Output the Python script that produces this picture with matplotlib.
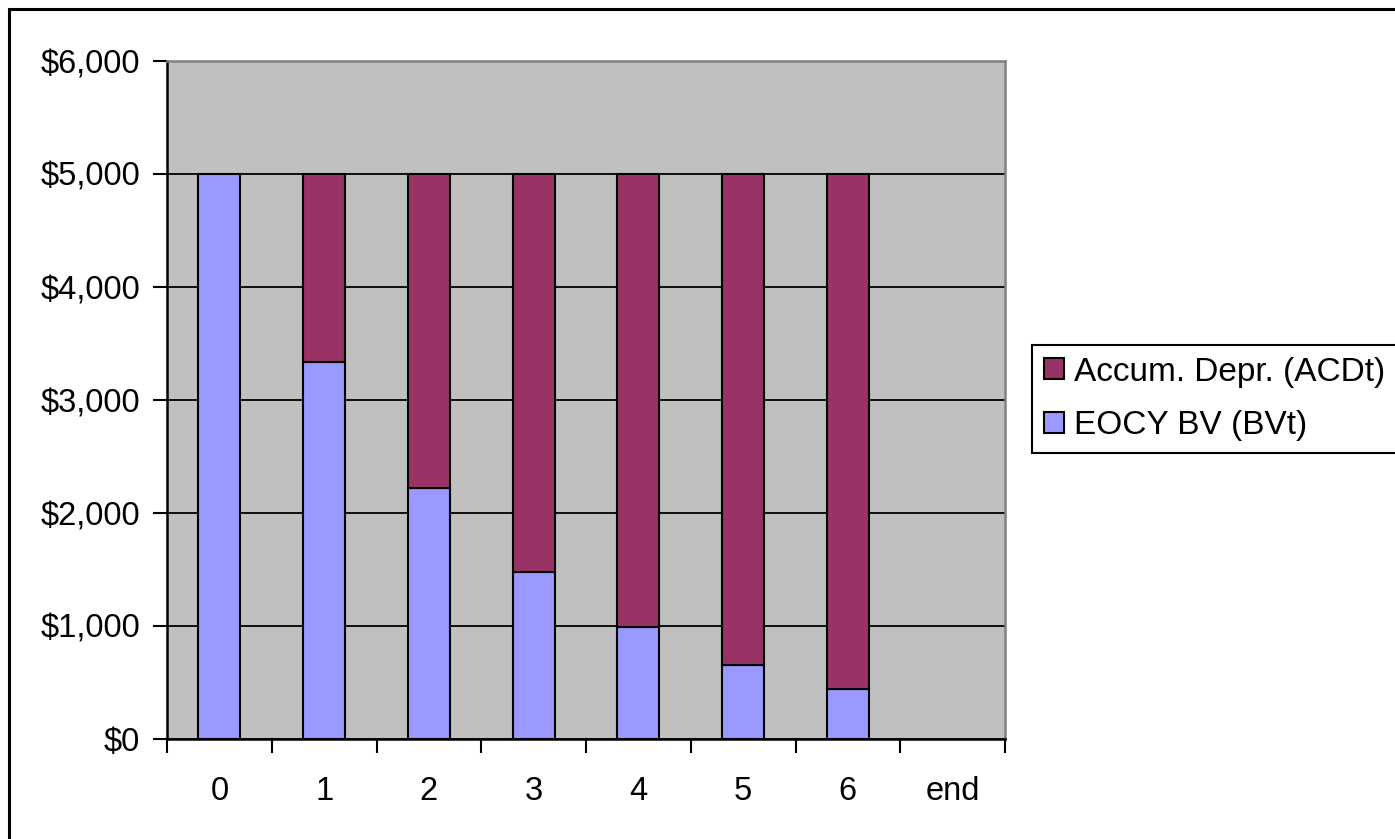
import matplotlib
matplotlib.use("Agg")
import matplotlib.pyplot as plt
from matplotlib.patches import Rectangle
from matplotlib.ticker import FuncFormatter, FixedLocator
import numpy as np

plt.rcParams['font.family'] = ['Liberation Sans', 'DejaVu Sans']

categories = ["0", "1", "2", "3", "4", "5", "6", "end"]
book_value = [5000, 3333, 2222, 1481, 988, 658, 439, 0]
accum_depr = [0, 1667, 2778, 3519, 4012, 4342, 4561, 0]
y_ticks = [0, 1000, 2000, 3000, 4000, 5000, 6000]

W, H = 1395, 839
fig = plt.figure(figsize=(W / 100, H / 100), dpi=100)
fig.patch.set_facecolor("white")

# outer chart frame
fig.add_artist(Rectangle((8.5 / W, -0.05), 1.1, 1 - 8.5 / H + 0.05,
                         transform=fig.transFigure, fill=False,
                         edgecolor="black", linewidth=2.2, zorder=0))

ax = fig.add_axes([167 / W, 1 - 739 / H, (1005 - 167) / W, (739 - 61) / H])
ax.set_facecolor("#C0C0C0")

x = np.arange(len(categories))
bw = 0.4
bv_lw = [1.5 if v > 0 else 0 for v in book_value]
ad_lw = [1.5 if v > 0 else 0 for v in accum_depr]
b1 = ax.bar(x, book_value, width=bw, color="#9999FF", edgecolor="black",
            linewidth=bv_lw, label="EOCY BV (BVt)", zorder=3)
b2 = ax.bar(x, accum_depr, width=bw, bottom=book_value, color="#993366",
            edgecolor="black", linewidth=ad_lw, label="Accum. Depr. (ACDt)", zorder=3)

ax.set_xlim(-0.5, len(categories) - 0.5)
ax.set_ylim(0, 6000)

ax.yaxis.set_major_locator(FixedLocator(y_ticks))
ax.yaxis.set_major_formatter(FuncFormatter(lambda v, p: f"${v:,.0f}"))
ax.grid(axis="y", color="black", linewidth=1.3, zorder=1)
ax.set_axisbelow(True)

ax.set_xticks(np.arange(len(categories) + 1) - 0.5)
ax.set_xticklabels([])
ax.set_xticks(x, minor=True)
ax.set_xticklabels(categories, minor=True)
ax.tick_params(axis="x", which="major", direction="out", length=10, width=1.5,
               color="black")
ax.tick_params(axis="x", which="minor", length=0, pad=27, labelsize=23.5)
ax.tick_params(axis="y", direction="out", length=10, width=1.5, pad=9.5,
               labelsize=23.5, color="black")

for side in ("left", "bottom"):
    ax.spines[side].set_color("black")
    ax.spines[side].set_linewidth(1.8)
for side in ("top", "right"):
    ax.spines[side].set_color("#808080")
    ax.spines[side].set_linewidth(1.8)

leg = ax.legend(handles=[b2, b1], loc="upper left",
                bbox_to_anchor=(1032 / W, 1 - 345 / H), bbox_transform=fig.transFigure,
                fontsize=24, frameon=True, fancybox=False, framealpha=1,
                edgecolor="black", handlelength=0.6, handleheight=0.6,
                handletextpad=0.3, borderpad=0.35, labelspacing=0.68,
                borderaxespad=0)
leg.get_frame().set_linewidth(1.5)
for h in leg.legend_handles:
    h.set_linewidth(1.5)

fig.savefig("out.png", dpi=100)
